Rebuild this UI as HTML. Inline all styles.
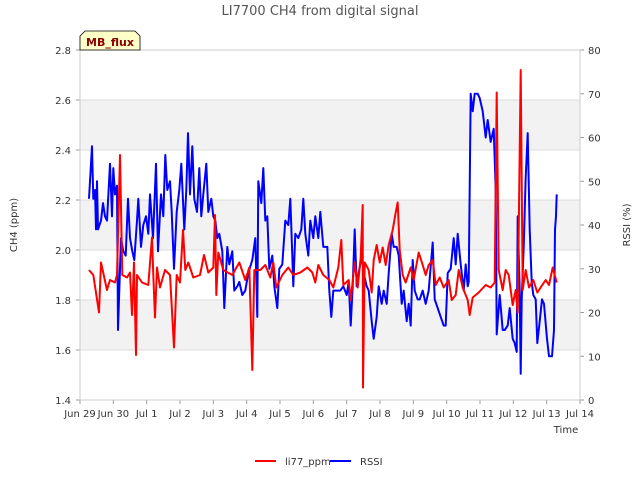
<!DOCTYPE html>
<html><head><meta charset="utf-8"><style>
body{margin:0;background:#fff;font-family:"Liberation Sans","DejaVu Sans",sans-serif;}
svg text{font-family:"DejaVu Sans","Liberation Sans",sans-serif;}
</style></head><body>
<svg id="chart" width="640" height="480" viewBox="0 0 640 480" xmlns="http://www.w3.org/2000/svg">
<text x="320" y="15" text-anchor="middle" font-size="13" fill="#555">LI7700 CH4 from digital signal</text>
<g id="bands"></g><g id="grid"></g><g id="axes"></g><g id="series"></g>
<g>
<path d="M80,50 L80,36 L85,31 L135,31 L140,36 L140,50 Z" fill="#ffffc8" stroke="#000" stroke-width="0.8"/>
<text x="110" y="46" text-anchor="middle" font-size="11" font-weight="bold" fill="#8b0000">MB_flux</text>
</g>
<text transform="translate(17,225) rotate(-90)" text-anchor="middle" font-size="10" fill="#333">CH4 (ppm)</text>
<text transform="translate(630,225) rotate(-90)" text-anchor="middle" font-size="10" fill="#333">RSSI (%)</text>
<text x="566" y="433" text-anchor="middle" font-size="10" fill="#333">Time</text>
<g><line x1="255" y1="461" x2="276" y2="461" stroke="#f00" stroke-width="2"/><text x="285" y="465" font-size="10" fill="#333">li77_ppm</text></g>
<g><line x1="330" y1="461" x2="351" y2="461" stroke="#00f" stroke-width="2"/><text x="360" y="465" font-size="10" fill="#333">RSSI</text></g>
</svg>
<script>
const xTickLabels=["Jun 29","Jun 30","Jul 1","Jul 2","Jul 3","Jul 4","Jul 5","Jul 6","Jul 7","Jul 8","Jul 9","Jul 10","Jul 11","Jul 12","Jul 13","Jul 14"];
const yTicks=[1.4,1.6,1.8,2.0,2.2,2.4,2.6,2.8];
const y2Ticks=[0,10,20,30,40,50,60,70,80];
const ch4Days=[0.27,0.4,0.57,0.63,0.81,0.9,1.05,1.11,1.2,1.27,1.41,1.5,1.56,1.62,1.68,1.71,1.86,2.05,2.16,2.2,2.25,2.31,2.4,2.55,2.7,2.82,2.9,3.0,3.09,3.16,3.25,3.4,3.6,3.72,3.85,4.0,4.05,4.09,4.15,4.3,4.57,4.78,4.96,5.08,5.17,5.23,5.41,5.56,5.71,5.8,5.89,6.07,6.25,6.4,6.61,6.82,6.97,7.06,7.15,7.3,7.48,7.6,7.75,7.84,7.9,8.06,8.12,8.24,8.33,8.42,8.48,8.49,8.54,8.66,8.75,8.81,8.9,8.99,9.08,9.17,9.26,9.38,9.47,9.53,9.59,9.68,9.77,9.92,10.01,10.16,10.28,10.37,10.46,10.58,10.67,10.79,10.91,11.06,11.15,11.27,11.36,11.48,11.63,11.69,11.78,11.96,12.17,12.32,12.44,12.5,12.56,12.68,12.77,12.86,12.98,13.07,13.13,13.22,13.28,13.37,13.47,13.6,13.72,13.87,13.97,14.07,14.18,14.3];
const ch4Values=[1.92,1.90,1.75,1.95,1.84,1.88,1.87,1.90,2.38,1.90,1.89,1.91,1.74,1.95,1.58,1.90,1.87,1.86,2.05,1.90,1.73,1.93,1.85,1.92,1.90,1.61,1.90,1.87,2.08,1.92,1.95,1.89,1.90,1.98,1.91,1.93,2.14,1.82,1.99,1.92,1.90,1.95,1.88,1.93,1.52,1.92,1.92,1.94,1.89,1.95,1.85,1.90,1.93,1.90,1.91,1.93,1.91,1.87,1.94,1.90,1.88,1.85,1.93,2.04,1.86,1.88,1.80,1.95,1.85,1.97,2.18,1.45,1.95,1.92,1.83,1.96,2.02,1.95,2.01,1.94,2.02,2.08,2.15,2.19,2.0,1.90,1.87,1.93,1.88,1.99,1.94,1.90,1.94,1.96,1.86,1.89,1.85,1.88,1.80,1.82,1.92,1.85,1.80,1.74,1.81,1.83,1.86,1.85,1.87,2.63,1.92,1.84,1.92,1.90,1.78,1.84,1.75,2.72,1.84,1.92,1.85,1.88,1.83,1.86,1.88,1.86,1.93,1.87];
const rssiDays=[0.27,0.36,0.4,0.45,0.48,0.51,0.54,0.63,0.69,0.75,0.81,0.9,0.96,1.0,1.05,1.11,1.14,1.23,1.3,1.37,1.44,1.5,1.57,1.63,1.71,1.75,1.83,1.9,1.98,2.05,2.1,2.19,2.28,2.34,2.43,2.5,2.56,2.62,2.7,2.75,2.82,2.9,2.98,3.04,3.13,3.19,3.24,3.3,3.37,3.43,3.51,3.58,3.64,3.7,3.79,3.85,3.94,4.0,4.06,4.12,4.18,4.27,4.33,4.42,4.48,4.57,4.63,4.72,4.78,4.87,4.96,5.05,5.17,5.26,5.32,5.35,5.44,5.5,5.56,5.62,5.68,5.77,5.83,5.92,5.98,6.07,6.16,6.25,6.31,6.37,6.4,6.46,6.55,6.64,6.7,6.76,6.85,6.91,7.0,7.06,7.15,7.21,7.3,7.36,7.42,7.48,7.54,7.6,7.72,7.81,7.9,8.0,8.06,8.12,8.18,8.24,8.3,8.36,8.45,8.51,8.6,8.66,8.75,8.81,8.9,8.96,9.05,9.11,9.2,9.26,9.35,9.41,9.5,9.56,9.65,9.71,9.8,9.86,9.92,9.98,10.04,10.13,10.19,10.28,10.37,10.46,10.58,10.64,10.73,10.82,10.91,10.97,11.03,11.12,11.21,11.27,11.33,11.42,11.51,11.57,11.63,11.66,11.72,11.78,11.84,11.93,11.99,12.08,12.17,12.23,12.32,12.41,12.47,12.5,12.53,12.59,12.68,12.74,12.83,12.89,12.98,13.04,13.1,13.13,13.19,13.22,13.25,13.31,13.37,13.43,13.49,13.55,13.6,13.67,13.72,13.79,13.86,13.92,14.01,14.07,14.16,14.22,14.25,14.28,14.3];
const rssiValues=[46,58,46,48,39,50,39,41,45,42,41,54,42,53,47,49,16,37,34,33,46,37,34,32,41,46,35,40,42,38,47,37,54,34,47,42,56,48,50,43,30,43,48,54,39,48,61,47,58,46,43,53,42,47,54,43,46,42,41,37,38,34,21,35,31,34,25,26,27,24,25,29,32,37,19,50,45,53,41,42,30,33,26,21,30,31,41,40,46,33,26,38,37,39,46,38,33,41,37,42,37,43,35,35,35,25,19,25,25,25,26,24,27,17,26,39,26,29,33,29,26,25,18,14,19,26,22,25,22,29,38,35,35,33,22,25,18,22,17,32,25,23,23,25,22,25,36,23,21,19,17,17,29,30,37,31,38,31,25,31,26,27,70,66,70,70,69,66,60,64,59,62,48,15,18,24,16,16,17,21,14,13,11,42,25,6,23,35,51,61,39,27,24,23,13,18,23,22,14,10,10,16,39,42,47];

const NS="http://www.w3.org/2000/svg";
const L=80,R=580,T=50,B=400;
const xScale=d=>L+d*(R-L)/15;
const yScale=v=>B-(v-1.4)/(2.8-1.4)*(B-T);
const y2Scale=v=>B-v/80*(B-T);
function mk(tag,attrs,parent){const e=document.createElementNS(NS,tag);for(const k in attrs)e.setAttribute(k,attrs[k]);parent.appendChild(e);return e;}
const bands=document.getElementById('bands'),grid=document.getElementById('grid'),axes=document.getElementById('axes'),series=document.getElementById('series');
[[1.6,1.8],[2.0,2.2],[2.4,2.6]].forEach(b=>{
 const r=mk('rect',{x:L,y:yScale(b[1]),width:R-L,height:yScale(b[0])-yScale(b[1]),fill:'#f2f2f2'},bands);
 
 
});
yTicks.forEach(v=>{
 const g=mk('line',{x1:L,x2:R,y1:yScale(v),y2:yScale(v),stroke:'#dcdcdc','stroke-width':1},grid);
 
 
 mk('line',{x1:L-4,x2:L,y1:yScale(v),y2:yScale(v),stroke:'#999'},axes);
 const t=mk('text',{x:L-9,y:yScale(v)+4,'text-anchor':'end','font-size':10,fill:'#333'},axes);
 t.textContent=v.toFixed(1);
 
 
});
y2Ticks.forEach(v=>{
 mk('line',{x1:R,x2:R+4,y1:y2Scale(v),y2:y2Scale(v),stroke:'#999'},axes);
 const t=mk('text',{x:R+8,y:y2Scale(v)+4,'font-size':10,fill:'#333'},axes);
 t.textContent=v;
 
 
});
xTickLabels.forEach((s,i)=>{
 mk('line',{x1:xScale(i),x2:xScale(i),y1:B,y2:B+4,stroke:'#999'},axes);
 const t=mk('text',{x:xScale(i),y:B+17,'text-anchor':'middle','font-size':10,fill:'#333'},axes);
 t.textContent=s;
 
 
});
mk('rect',{x:L,y:T,width:R-L,height:B-T,fill:'none',stroke:'#ccc'},axes);
function line(days,vals,sc,color,name){
 const p=mk('polyline',{points:days.map((d,i)=>xScale(d).toFixed(1)+','+sc(vals[i]).toFixed(1)).join(' '),fill:'none',stroke:color,'stroke-width':2,'stroke-linejoin':'round'},series);
 
 
}
line(rssiDays,rssiValues,y2Scale,'#0000ff','rssi-line');
line(ch4Days,ch4Values,yScale,'#ff0000','li77-ppm-line');
</script>
</body></html>
